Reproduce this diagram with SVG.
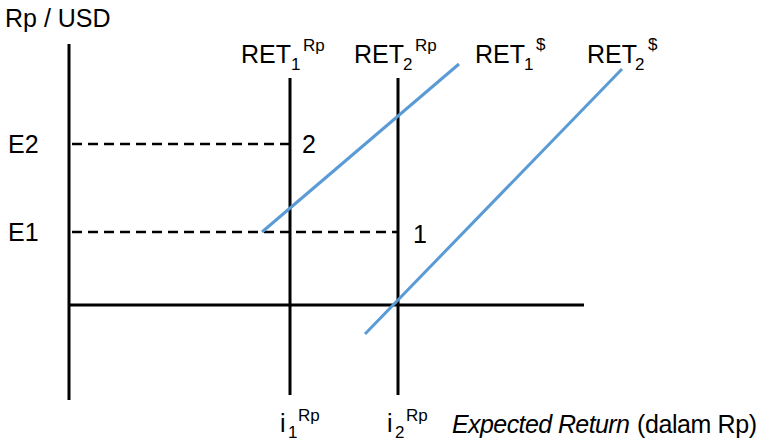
<svg xmlns="http://www.w3.org/2000/svg" width="762" height="443" viewBox="0 0 762 443">
<style>
text{font-family:"Liberation Sans",Arial,sans-serif;fill:#000}
.lbl{font-size:25px}
.sub{font-size:17px}
.ax{stroke:#000;stroke-width:3;fill:none}
.dash{stroke:#000;stroke-width:2.4;stroke-dasharray:10,6;fill:none}
.blue{stroke:#5B9BD5;stroke-width:3;fill:none}
</style>
<rect width="762" height="443" fill="#fff"/>
<g id="axes">
<line class="ax" x1="69" y1="44" x2="69" y2="400"/>
<line class="ax" x1="69" y1="305" x2="584" y2="305"/>
<text class="lbl" x="5" y="27" font-size="26">Rp / USD</text>
<text class="lbl" x="452" y="433" font-size="22" textLength="178"><tspan font-style="italic">Expected Return</tspan></text>
<text class="lbl" x="637" y="433" font-size="22" textLength="120">(dalam Rp)</text>
</g>
<g id="connectors">
<line class="ax" x1="290" y1="78" x2="290" y2="395"/>
<line class="ax" x1="398" y1="78" x2="398" y2="395"/>
<line class="dash" x1="72" y1="144" x2="290" y2="144"/>
<line class="dash" x1="72" y1="232" x2="398" y2="232"/>
<line class="blue" x1="262" y1="232" x2="459" y2="64"/>
<line class="blue" x1="365" y1="334" x2="622" y2="69"/>
</g>
<g id="ret1rp"><text class="lbl" x="241" y="63">RET<tspan class="sub" x="291" y="70">1</tspan><tspan class="sub" x="303" y="51">Rp</tspan></text></g>
<g id="ret2rp"><text class="lbl" x="354" y="63">RET<tspan class="sub" x="403" y="70">2</tspan><tspan class="sub" x="415" y="51">Rp</tspan></text></g>
<g id="ret1usd"><text class="lbl" x="475" y="63">RET<tspan class="sub" x="524" y="70">1</tspan><tspan class="sub" x="536" y="50">$</tspan></text></g>
<g id="ret2usd"><text class="lbl" x="587" y="63">RET<tspan class="sub" x="635" y="70">2</tspan><tspan class="sub" x="648" y="50">$</tspan></text></g>
<g id="e2"><text class="lbl" x="8" y="153">E2</text></g>
<g id="e1"><text class="lbl" x="8" y="241">E1</text></g>
<g id="p2"><text class="lbl" x="302" y="153">2</text></g>
<g id="p1"><text class="lbl" x="413" y="243">1</text></g>
<g id="i1"><text class="lbl" x="280" y="432">i<tspan class="sub" x="288" y="438">1</tspan><tspan class="sub" x="298" y="421">Rp</tspan></text></g>
<g id="i2"><text class="lbl" x="387" y="432">i<tspan class="sub" x="395" y="438">2</tspan><tspan class="sub" x="406" y="421">Rp</tspan></text></g>
</svg>
